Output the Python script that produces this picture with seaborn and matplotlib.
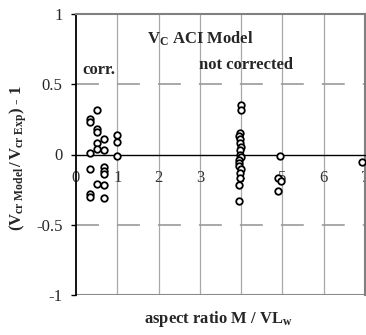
import numpy as np
import pandas as pd
import matplotlib
matplotlib.use("Agg")
import matplotlib.pyplot as plt
import seaborn as sns

# ---- data ----
aspect_ratio = [0.35, 0.35, 0.35, 0.35, 0.35, 0.35,
                0.50, 0.50, 0.50, 0.50, 0.50, 0.50,
                0.69, 0.69, 0.69, 0.69, 0.69, 0.69, 0.69,
                1.00, 1.00, 1.00,
                4.00, 4.00, 3.97, 3.95, 3.98, 3.97, 3.99, 3.97, 3.98, 3.99,
                3.96, 3.95, 3.94, 3.99, 3.97, 3.98, 3.94, 3.96,
                4.94, 4.90, 4.96, 4.90,
                6.92]
deviation = [0.25, 0.23, 0.01, -0.10, -0.28, -0.30,
             0.32, 0.18, 0.16, 0.08, 0.04, -0.21,
             0.11, 0.03, -0.09, -0.12, -0.14, -0.22, -0.31,
             0.14, 0.09, -0.01,
             0.35, 0.32, 0.15, 0.13, 0.11, 0.08, 0.05, 0.03, 0.00, -0.02,
             -0.04, -0.06, -0.08, -0.10, -0.13, -0.17, -0.22, -0.33,
             -0.01, -0.17, -0.19, -0.26,
             -0.055]
x_ticks = [0, 1, 2, 3, 4, 5, 6, 7]
y_ticks = [-1, -0.5, 0, 0.5, 1]
y_tick_labels = ["-1", "-0.5", "0", "0.5", "1"]

df = pd.DataFrame({"aspect": aspect_ratio, "dev": deviation})

sns.set_style("white")
plt.rcParams["font.family"] = ["Liberation Serif", "DejaVu Serif"]
plt.rcParams["mathtext.fontset"] = "custom"
plt.rcParams["mathtext.rm"] = "Liberation Serif"
plt.rcParams["mathtext.bf"] = "Liberation Serif:bold"
plt.rcParams["mathtext.it"] = "Liberation Serif:italic"
plt.rcParams["lines.scale_dashes"] = False

fig = plt.figure(figsize=(3.66, 3.35), dpi=100)
ax = fig.add_axes([76 / 366, 40 / 335, 289 / 366, 281 / 335])

# grid
for xv in x_ticks[1:-1]:
    ax.axvline(xv, color="#a8a8a8", lw=0.9, zorder=0)
for yv in (-0.5, 0.5):
    ax.axhline(yv, color="#999999", lw=1.2, dashes=(16.5, 13), zorder=0)
ax.axhline(-1, color="#8a8a8a", lw=1.5, zorder=1)

sns.scatterplot(data=df, x="aspect", y="dev", ax=ax, marker="o",
                s=22, facecolor="white", edgecolor="black", linewidth=1.3,
                zorder=5, legend=False)

ax.set_xlim(0, 7)
ax.set_ylim(-1, 1)

# spines
for side in ("top", "right"):
    ax.spines[side].set_color("#808080")
    ax.spines[side].set_linewidth(1.5)
ax.spines["left"].set_color("black")
ax.spines["left"].set_linewidth(1.3)
ax.spines["bottom"].set_position(("data", 0))
ax.spines["bottom"].set_color("black")
ax.spines["bottom"].set_linewidth(1.0)

ax.set_xticks(x_ticks)
ax.set_xticklabels([str(t) for t in x_ticks])
ax.set_yticks(y_ticks)
ax.set_yticklabels(y_tick_labels)
ax.tick_params(axis="x", direction="inout", length=4, width=1, color="black",
               labelsize=12, pad=9, labelcolor="#333333")
ax.tick_params(axis="y", direction="out", length=3.6, width=1, color="black",
               labelsize=12, pad=6, left=True)
ax.set_xlabel("")
ax.set_ylabel("")

# annotations
ax.text(1.72, 0.79, r"$\mathbf{V_C}$ ACI Model", fontsize=12, fontweight="bold",
        va="baseline", ha="left")
ax.text(0.145, 0.57, "corr.", fontsize=12, fontweight="bold",
        va="baseline", ha="left")
ax.text(2.98, 0.61, "not corrected", fontsize=12, fontweight="bold",
        va="baseline", ha="left")

fig.text(18 / 366, 1 - 158 / 335,
         r"$\mathbf{(V_{cr\ Model}\,/\,V_{cr\ Exp})\ \text{-}\ 1}$",
         rotation=90, ha="center", va="center", fontsize=12)
fig.text(218 / 366, 1 - 319 / 335, r"aspect ratio M / VL$_\mathbf{w}$",
         ha="center", va="center", fontsize=12, fontweight="bold")

fig.savefig("out.png", dpi=100)
